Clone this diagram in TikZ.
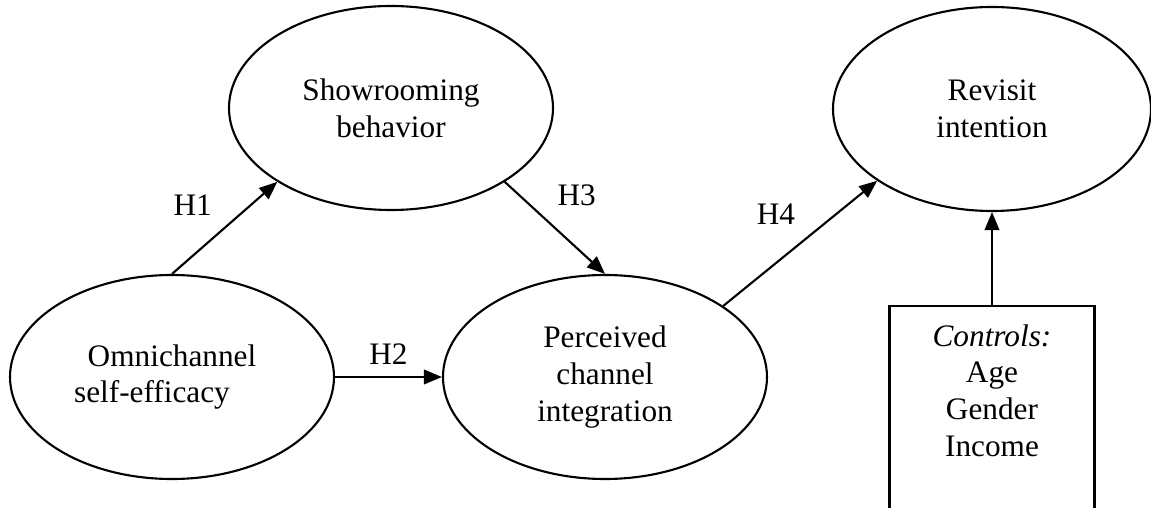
\documentclass[tikz,border=0pt]{standalone}
\usepackage{fontspec}
\setmainfont{Liberation Serif}
\usetikzlibrary{shapes.geometric,arrows.meta,positioning}
\tikzset{
	construct/.style={ellipse,draw,line width=0.6pt,minimum width=32.4mm,minimum height=20.4mm,align=center,inner sep=0pt},
	hyp/.style={->,line width=0.6pt},
	ctrlbox/.style={draw,line width=0.6pt,minimum width=20.5mm,minimum height=26mm,anchor=north}
}
\begin{document}
\begin{tikzpicture}[>={Triangle[length=1.8mm,width=1.45mm]},x=0.1mm,y=-0.1mm,font=\fontsize{8.9}{10.5}\selectfont]
	\clip (0,0) rectangle (1151,508);
	\node[construct] (show) at (391,108) {Showrooming\\behavior};
	\node[construct] (omni) at (172,377) {Omnichannel\\self-efficacy\hspace*{4mm}};
	\node[construct] (perc) at (605,377) {Perceived\\channel\\integration};
	\node[construct,minimum width=31.8mm] (rev) at (992,109) {Revisit\\intention};
	\node[ctrlbox] (ctrl) at (992,305) {};
	\node[below=1.86mm of ctrl.north,inner sep=0pt,align=center] (ctrltxt) {\textit{Controls:}\\Age\\Gender\\Income};
	\draw[hyp] (omni.north)--(show.213)node[midway,above left]{H1};
	\draw[hyp] (omni.east)--(perc.west)node[midway,above]{H2};
	\draw[hyp] (show.327)--(perc.north)node[pos=0.4,above right]{H3};
	\draw[hyp] (perc.31.7)--(rev.212)node[pos=0.55,above left]{H4};
	\draw[hyp] (ctrl.north)--(rev.south);
\end{tikzpicture}
\end{document}
